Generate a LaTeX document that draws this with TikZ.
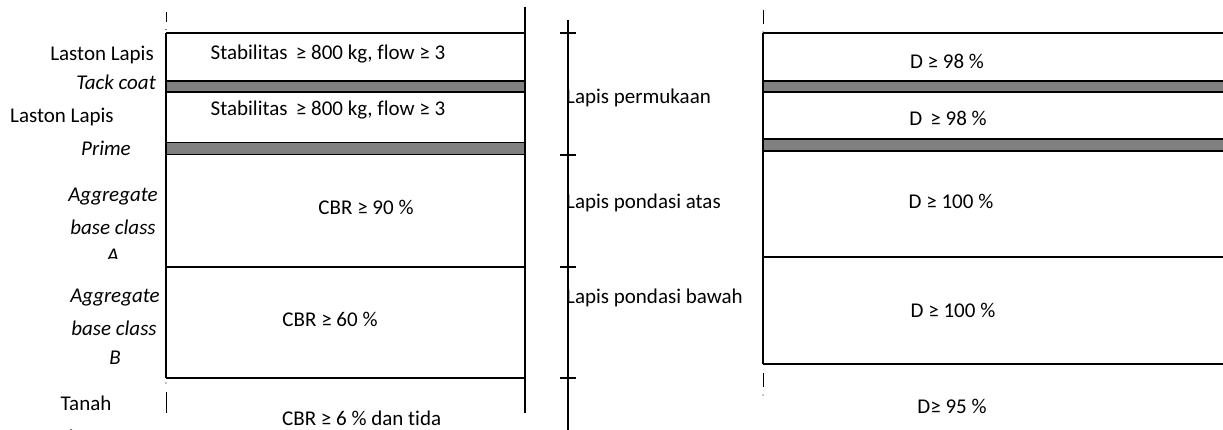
\documentclass[tikz,border=0pt]{standalone}
\usepackage{fontspec}
\setmainfont{Carlito}[Ligatures={NoCommon}]
\definecolor{bandgray}{HTML}{808080}
\tikzset{
  layerline/.style={draw=black, line width=1.4pt},
  band/.style={draw=black, fill=bandgray, line width=1.6pt},
  edgeline/.style={draw=black, line width=1.3pt},
  thickedge/.style={draw=black, line width=2.2pt},
  tickline/.style={draw=black, line width=1.2pt},
  dashmark/.style={draw=black, line width=1pt},
  txt/.style={font=\fontsize{21}{24}\selectfont, inner sep=0pt},
  itxt/.style={font=\fontsize{21}{24}\selectfont\itshape, inner sep=0pt}
}
\begin{document}
\begin{tikzpicture}[x=1pt,y=-1pt]
\useasboundingbox (0,0) rectangle (1223,430);
\clip (0,0) rectangle (1223,430);

% ---------- left column ----------
\draw[band] (166,81) rectangle (525,92);
\draw[band] (166,142.5) rectangle (525,154.5);
\draw[layerline] (166,33) -- (525,33);
\draw[layerline] (166,267) -- (525,267);
\draw[layerline] (166,378) -- (525,378);
\draw[edgeline] (166,33) -- (166,378);
\draw[thickedge] (525,7) -- (525,413);
\draw[dashmark] (166,12) -- (166,22);
\fill (166,29.5) circle (0.6);
\fill (166,383) circle (0.6);
\draw[dashmark] (166,392) -- (166,413);

\node[txt] (s1) at (328,54) {Stabilitas\, ≥ 800 kg, flow ≥ 3};
\node[txt] (s2) at (328,110) {Stabilitas\, ≥ 800 kg, flow ≥ 3};
\node[txt] (c1) at (366,207) {CBR ≥ 90 \%};
\node[txt] (c2) at (330,319) {CBR ≥ 60 \%};
\node[txt,anchor=west] (c3) at (282,418) {CBR ≥ 6 \% dan tida};

\node[txt,anchor=east] (l1) at (154,55) {Laston Lapis};
\node[itxt,anchor=east] (l2) at (156,82) {Tack coat};
\node[txt,anchor=west] (l3) at (10,117) {Laston Lapis};
\node[itxt] (l4) at (106,148) {Prime};
\node[itxt] (l5) at (113,197) {Aggregate};
\node[itxt] (l6) at (113,227) {base class};
\begin{scope}
  \clip (80,240) rectangle (150,259);
  \node[itxt] (l7) at (113,256) {A};
\end{scope}
\node[itxt] (l8) at (115,298) {Aggregate};
\node[itxt] (l9) at (114,328) {base class};
\node[itxt] (l10) at (115,358) {B};
\node[txt] (l11) at (86,403) {Tanah};
\node[txt] (l12) at (86,437) {dasar};

% ---------- middle bracket ----------
\draw[tickline] (568,20) -- (568,432);
\foreach \yy in {33,155,267,378} \draw[tickline] (560,\yy) -- (576,\yy);
\node[txt,anchor=west] (m1) at (566,98) {Lapis permukaan};
\node[txt,anchor=west] (m2) at (566,203) {Lapis pondasi atas};
\node[txt,anchor=west] (m3) at (566,298) {Lapis pondasi bawah};

% ---------- right column ----------
\draw[band] (763,81) rectangle (1230,92);
\draw[band] (763,139) rectangle (1230,151);
\draw[layerline] (763,33) -- (1230,33);
\draw[layerline] (763,257) -- (1230,257);
\draw[layerline] (763,364) -- (1230,364);
\draw[edgeline] (763,33) -- (763,364);
\draw[dashmark] (763,10) -- (763,24);
\fill (763,32) circle (0.6);
\draw[dashmark] (763,373) -- (763,387);
\fill (763,395) circle (0.6);

\node[txt] (d1) at (947,61) {D ≥ 98 \%};
\node[txt] (d2) at (948,118) {D\, ≥ 98 \%};
\node[txt] (d3) at (951,201) {D ≥ 100 \%};
\node[txt] (d4) at (953,310) {D ≥ 100 \%};
\node[txt] (d5) at (952,406) {D≥ 95 \%};
\end{tikzpicture}
\end{document}
